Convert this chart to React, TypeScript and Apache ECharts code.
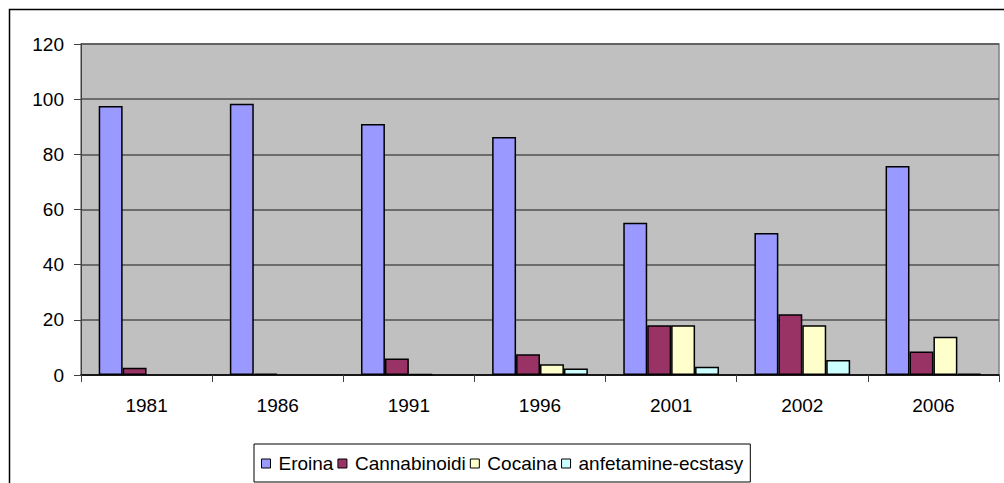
import React, { useEffect, useRef } from "react";
import * as echarts from "echarts";

const years = ["1981", "1986", "1991", "1996", "2001", "2002", "2006"];
const eroina = [97.5, 98.3, 91, 86.3, 55.2, 51.5, 75.8];
const cannabinoidi = [2.6, 0.5, 6, 7.5, 18, 22, 8.5];
const cocaina = [null, null, 0.4, 3.9, 18, 18, 13.9];
const anfetamine = [null, null, null, 2.4, 3, 5.4, 0.5];

const seriesNames = ["Eroina", "Cannabinoidi", "Cocaina", "anfetamine-ecstasy"];
const seriesColors = ["#9999FF", "#993366", "#FFFFCC", "#CCFFFF"];
const seriesData = [eroina, cannabinoidi, cocaina, anfetamine];

const FONT = "'Liberation Sans', Arial, sans-serif";

export default function App() {
  const ref = useRef<HTMLDivElement>(null);
  useEffect(() => {
    if (!ref.current) return;
    const chart = echarts.init(ref.current, undefined, { renderer: "svg" });
    chart.setOption({
      animation: false,
      backgroundColor: "#FFFFFF",
      textStyle: { fontFamily: FONT },
      graphic: [
        {
          type: "rect",
          shape: { x: 9.5, y: 9.5, width: 1200, height: 700 },
          style: { fill: "none", stroke: "#000", lineWidth: 1.5 },
          silent: true,
        },
      ],
      grid: {
        left: 81,
        right: 5,
        top: 44,
        bottom: 108,
        show: true,
        backgroundColor: "#C0C0C0",
        borderColor: "#808080",
        borderWidth: 1.5,
      },
      legend: {
        left: 254,
        top: 444,
        data: seriesNames,
        icon: "rect",
        itemWidth: 9,
        itemHeight: 9,
        itemGap: 4,
        padding: [10, 7, 9, 7],
        borderColor: "#000",
        borderWidth: 1,
        backgroundColor: "#fff",
        itemStyle: { borderColor: "#000", borderWidth: 1 },
        textStyle: {
          fontFamily: FONT,
          fontSize: 19,
          color: "#000",
          padding: [0, 0, 0, 3],
        },
      },
      xAxis: {
        type: "category",
        data: years,
        axisLine: { lineStyle: { color: "#000", width: 1.5 } },
        axisTick: { show: true, length: 7, lineStyle: { color: "#404040" } },
        axisLabel: { color: "#000", fontSize: 19, fontFamily: FONT, margin: 21 },
      },
      yAxis: {
        type: "value",
        min: 0,
        max: 120,
        interval: 20,
        axisLine: { show: true, lineStyle: { color: "#404040", width: 1 } },
        axisTick: { show: true, length: 7, lineStyle: { color: "#404040" } },
        axisLabel: { color: "#000", fontSize: 19, fontFamily: FONT, margin: 17 },
        splitLine: { show: true, lineStyle: { color: "#505050", width: 1.5 } },
      },
      series: seriesNames.map((name, i) => ({
        name,
        type: "bar",
        data: seriesData[i],
        barGap: "0%",
        barCategoryGap: "27%",
        itemStyle: { color: seriesColors[i], borderColor: "#000", borderWidth: 1.5 },
      })),
    });
    return () => chart.dispose();
  }, []);
  return (
    <div
      ref={ref}
      style={{ position: "fixed", left: 0, top: 0, width: 1004, height: 483 }}
    />
  );
}
